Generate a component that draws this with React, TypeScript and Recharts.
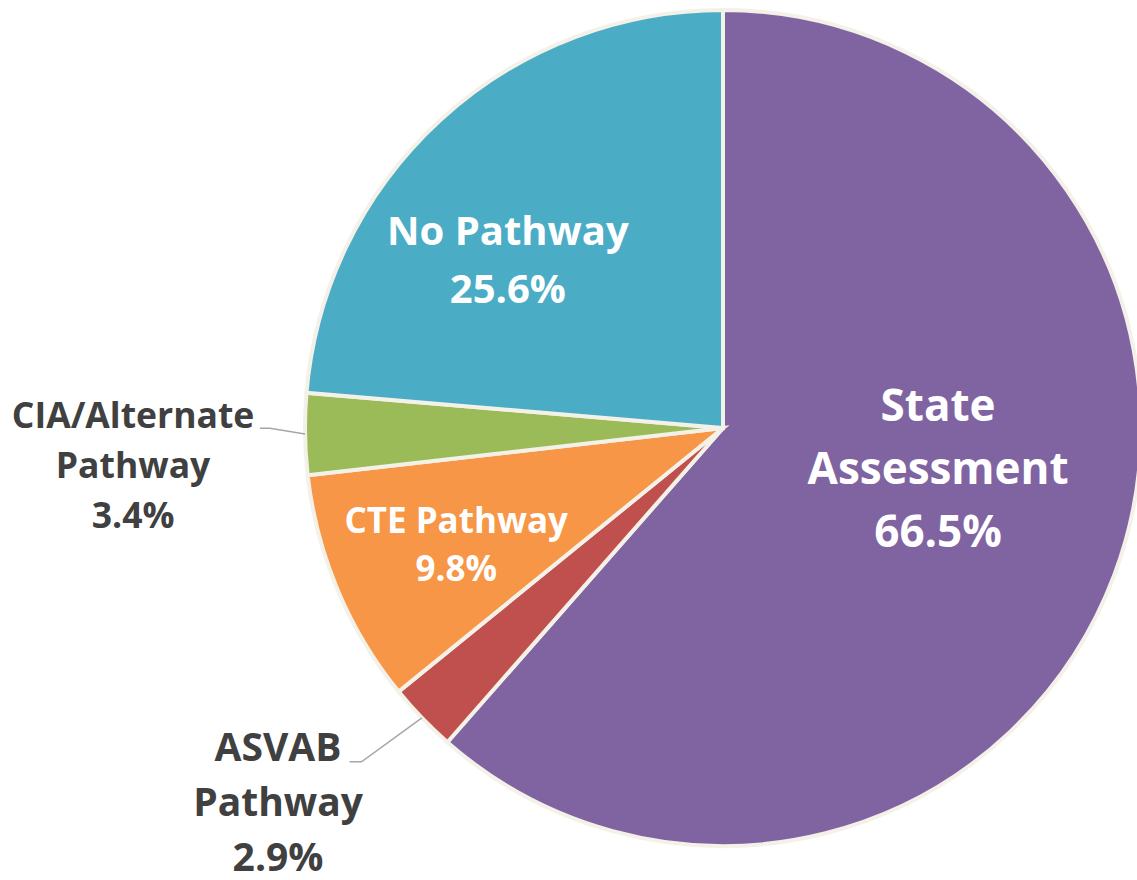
import React from 'react';
import { PieChart, Pie, Cell } from 'recharts';

const categories = ['State Assessment', 'ASVAB Pathway', 'CTE Pathway', 'CIA/Alternate Pathway', 'No Pathway'];
const values = [66.5, 2.9, 9.8, 3.4, 25.6];
const colors = ['#8064A2', '#C0504D', '#F79646', '#9BBB59', '#4BACC6'];
const labelLines = [
  ['State', 'Assessment'],
  ['ASVAB', 'Pathway'],
  ['CTE Pathway'],
  ['CIA/Alternate', 'Pathway'],
  ['No Pathway'],
];

const data = categories.map((name, i) => ({ name, value: values[i] }));

// label placement: polar offsets relative to each slice's mid angle (clockwise degrees, radius as fraction of outerRadius)
const labelLayout = [
  { inside: true, r: 0.523, dTheta: -10.3, size: 44, lh: 63 },
  { inside: false, r: 1.388, dTheta: 4.0, elbowR: 1.177, elbowDTheta: 1.2, tail: 12, size: 39, lh: 55 },
  { inside: true, r: 0.696, dTheta: -0.7, size: 35, lh: 48 },
  { inside: false, r: 1.414, dTheta: -2.7, elbowR: 1.084, elbowDTheta: 0.8, tail: 10, size: 35.5, lh: 50 },
  { inside: true, r: 0.656, dTheta: -9.1, size: 40, lh: 58 },
];

const RAD = Math.PI / 180;
const polar = (cx: number, cy: number, r: number, angle: number) => ({
  x: cx + r * Math.cos(-angle * RAD),
  y: cy + r * Math.sin(-angle * RAD),
});

const renderLabel = (props: any) => {
  const { cx, cy, midAngle, outerRadius, index } = props;
  const cfg: any = labelLayout[index];
  const lines = [...labelLines[index], `${values[index]}%`];
  const p = polar(cx, cy, outerRadius * cfg.r, midAngle - cfg.dTheta);
  const fill = cfg.inside ? '#FFFFFF' : '#404040';
  let leader = null;
  if (!cfg.inside) {
    const s = polar(cx, cy, outerRadius, midAngle);
    const e = polar(cx, cy, outerRadius * cfg.elbowR, midAngle - cfg.elbowDTheta);
    leader = (
      <polyline
        points={`${s.x},${s.y} ${e.x},${e.y} ${e.x - cfg.tail},${e.y}`}
        fill="none"
        stroke="#A6A6A6"
        strokeWidth={1.5}
      />
    );
  }
  return (
    <g key={`lbl-${index}`}>
      {leader}
      {lines.map((t, i) => (
        <text
          key={i}
          x={p.x}
          y={p.y + (i - (lines.length - 1) / 2) * cfg.lh}
          textAnchor="middle"
          dominantBaseline="central"
          fill={fill}
          fontSize={cfg.size}
          fontWeight="bold"
          fontFamily="'Open Sans', sans-serif"
        >
          {t}
        </text>
      ))}
    </g>
  );
};

const App: React.FC = () => {
  return (
    <div style={{ position: 'absolute', left: 0, top: 0, width: 1137, height: 880, background: '#fff' }}>
      <PieChart width={1137} height={880} margin={{ top: 0, right: 0, bottom: 0, left: 0 }}>
        <Pie
          data={data}
          dataKey="value"
          nameKey="name"
          cx={723}
          cy={428}
          outerRadius={418}
          startAngle={90}
          endAngle={-270}
          stroke="#F4F1E8"
          strokeWidth={4}
          label={renderLabel}
          labelLine={false}
          isAnimationActive={false}
        >
          {data.map((d, i) => (
            <Cell key={d.name} fill={colors[i]} />
          ))}
        </Pie>
      </PieChart>
    </div>
  );
};

export default App;
